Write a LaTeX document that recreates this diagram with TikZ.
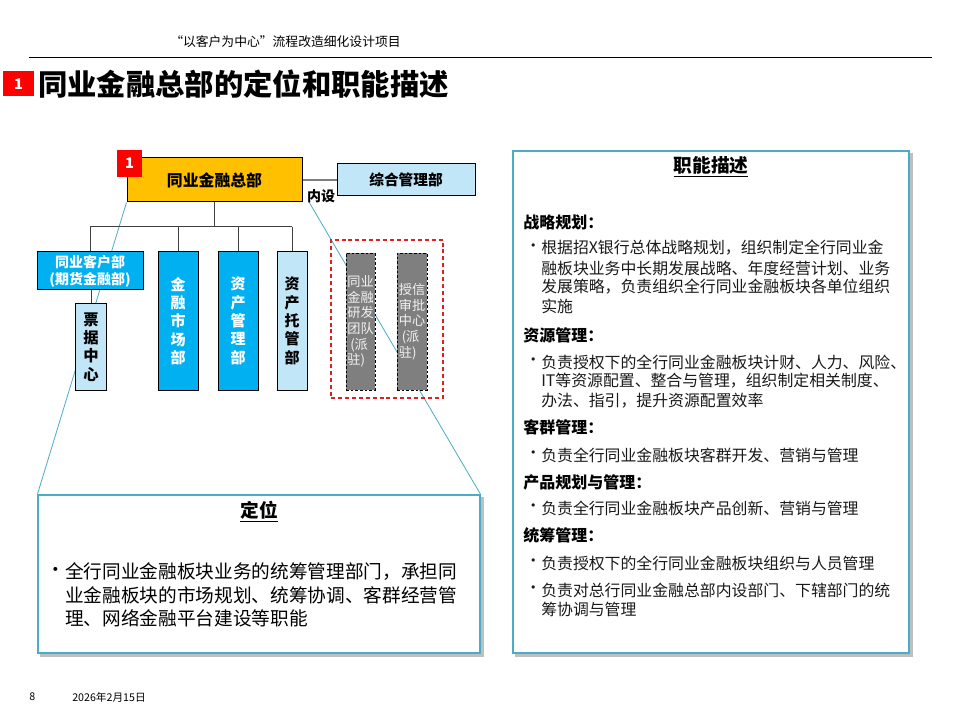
\documentclass[tikz,border=0pt]{standalone}
\usepackage{fontspec}
\setmainfont{Noto Sans CJK SC}
\usetikzlibrary{backgrounds}
\definecolor{orangeq}{HTML}{FFC000}
\definecolor{cyanq}{HTML}{00B0F0}
\definecolor{lblue}{HTML}{C0E6F8}
\definecolor{grayq}{HTML}{7F7F7F}
\definecolor{callout}{HTML}{4BACC6}
\definecolor{redq}{HTML}{FF0000}
\definecolor{dashred}{HTML}{E02020}
\definecolor{shadowq}{HTML}{BFBFBF}
\definecolor{lineq}{HTML}{404040}
\begin{document}
\begin{tikzpicture}[x=0.75pt,y=-0.75pt,
  orgbox/.style={draw=black, line width=0.75pt, inner sep=0pt, align=center,
    font=\bfseries\fontsize{11.25}{13.75}\selectfont},
  darkbox/.style={orgbox, fill=cyanq, text=white},
  lightbox/.style={orgbox, fill=lblue, text=black},
  dispbox/.style={draw=black, dashed, dash pattern=on 2pt off 1.5pt, line width=0.6pt, fill=grayq,
    text=white!95!black, inner sep=0.5pt, align=left,
    font=\fontsize{9.9}{11.75}\selectfont},
  badge/.style={fill=redq, text=white, inner sep=0pt, font=\bfseries\fontsize{11}{12}\selectfont},
  bigbox/.style={draw=callout, line width=0.9pt, fill=white, inner sep=0pt},
  orgline/.style={draw=lineq, line width=0.75pt},
  calline/.style={draw=callout, line width=0.6pt},
  ztext/.style={anchor=west, inner sep=0pt, font=\fontsize{11.9}{14}\selectfont, text=black!90},
  zhead/.style={anchor=west, inner sep=0pt, font=\bfseries\fontsize{12}{14}\selectfont, text=black},
  dtext/.style={anchor=west, inner sep=0pt, font=\fontsize{14}{16}\selectfont, text=black},
  boxtitle/.style={inner sep=0pt, font=\bfseries\fontsize{14}{16}\selectfont}
]
\useasboundingbox (0,0) rectangle (960,720);
\begin{pgfonlayer}{background}
\fill[white] (0,0) rectangle (960,720);
\end{pgfonlayer}

% header
\node[anchor=west, inner sep=0pt, font=\fontsize{9.6}{11}\selectfont] (hdr) at (170,42) {“以客户为中心”流程改造细化设计项目};
\coordinate (hl1) at (29,58);
\coordinate (hl2) at (932,58);
\draw[line width=0.75pt] (hl1) -- (hl2);

% title
\node[badge, minimum width={31*0.75pt}, minimum height={25*0.75pt}] (tbadge) at (18.5,84) {1};
\node[anchor=west, inner sep=0pt, font=\bfseries\fontsize{22}{24}\selectfont] (title) at (38,84) {同业金融总部的定位和职能描述};

% org chart
\node[orgbox, fill=orangeq, minimum width={175*0.75pt}, minimum height={44*0.75pt},
      font=\bfseries\fontsize{11.9}{14}\selectfont] (HQ) at (214.5,180) {同业金融总部};
\node[badge, minimum width={25*0.75pt}, minimum height={27*0.75pt}] (hqbadge) at (129.5,163.5) {1};
\node[lightbox, minimum width={138*0.75pt}, minimum height={32*0.75pt},
      font=\bfseries\fontsize{11}{13}\selectfont] (ZH) at (406,180) {综合管理部};
\node[inner sep=0pt, font=\bfseries\fontsize{10.5}{12}\selectfont] (neishe) at (321,196) {内设};

\node[darkbox, minimum width={106*0.75pt}, minimum height={38*0.75pt},
      font=\bfseries\fontsize{10.5}{12.75}\selectfont] (KH) at (90,271) {同业客户部\\(期货金融部)};
\node[lightbox, minimum width={31*0.75pt}, minimum height={86*0.75pt},
      font=\bfseries\fontsize{11.5}{13.75}\selectfont] (PJ) at (91,347) {票\\据\\中\\心};
\node[darkbox, minimum width={40*0.75pt}, minimum height={138*0.75pt}] (JR) at (178,321) {金\\融\\市\\场\\部};
\node[darkbox, minimum width={40*0.75pt}, minimum height={138*0.75pt}] (ZC) at (238,321) {资\\产\\管\\理\\部};
\node[lightbox, minimum width={30*0.75pt}, minimum height={138*0.75pt}] (TG) at (292,321) {资\\产\\托\\管\\部};

\node[draw=dashred, dashed, dash pattern=on 3pt off 2.2pt, line width=0.8pt,
      minimum width={112*0.75pt}, minimum height={158*0.75pt}, inner sep=0pt] (DISP) at (387,319) {};
\node[dispbox, minimum width={29*0.75pt}, minimum height={137*0.75pt}] (YF) at (360.5,321.5) {同业\\金融\\研发\\团队\\\ (派\\驻)};
\node[dispbox, minimum width={30*0.75pt}, minimum height={137*0.75pt}] (SX) at (412,321.5) {授信\\审批\\中心\\\ (派\\驻)};

\coordinate (bus) at (0,227);
\draw[orgline] (HQ.south) -- (HQ.south |- bus);
\draw[orgline] (KH.north |- bus) -- (TG.north |- bus);
\draw[orgline] (KH.north |- bus) -- (KH.north);
\draw[orgline] (JR.north |- bus) -- (JR.north);
\draw[orgline] (ZC.north |- bus) -- (ZC.north);
\draw[orgline] (TG.north |- bus) -- (TG.north);
\draw[orgline] (PJ.north |- KH.south) -- (PJ.north);
\draw[draw=grayq, line width=0.9pt] (HQ.east) -- (ZH.west);

% definition boxes
\node[bigbox, minimum width={442*0.75pt}, minimum height={158*0.75pt}] (DW) at (259,574) {};
\node[bigbox, minimum width={396*0.75pt}, minimum height={502*0.75pt}] (ZN) at (711,402) {};

\begin{pgfonlayer}{background}
\fill[shadowq] ([shift={(3,3)}]DW.north west) rectangle ([shift={(3,3)}]DW.south east);
\fill[shadowq] ([shift={(3,3)}]ZN.north west) rectangle ([shift={(3,3)}]ZN.south east);
\coordinate (c2) at (309,202);
\draw[calline] (HQ.south west) -- (DW.north west);
\draw[calline] (c2) -- (DW.north east);
\end{pgfonlayer}

% 定位 text
\node[boxtitle] (dwt) at (259,512) {\underline{定位}};
\node[dtext] (db1) at (46,572) {•};
\node[dtext] (dl1) at (65,572) {全行同业金融板块业务的统筹管理部门，承担同};
\node[dtext] (dl2) at (65,595) {业金融板块的市场规划、统筹协调、客群经营管};
\node[dtext] (dl3) at (65,618) {理、网络金融平台建设等职能};

% 职能描述 text
\node[boxtitle] (znt) at (711,167) {\underline{职能描述}};
\node[zhead] (h1) at (523,222) {战略规划：};
\node[ztext] (b1) at (525,248) {•};
\node[ztext] (t11) at (541,248) {根据招X银行总体战略规划，组织制定全行同业金};
\node[ztext] (t12) at (541,268) {融板块业务中长期发展战略、年度经营计划、业务};
\node[ztext] (t13) at (541,287) {发展策略，负责组织全行同业金融板块各单位组织};
\node[ztext] (t14) at (541,306) {实施};
\node[zhead] (h2) at (523,335) {资源管理：};
\node[ztext] (b2) at (525,362) {•};
\node[ztext] (t21) at (541,362) {负责授权下的全行同业金融板块计财、人力、风险、};
\node[ztext] (t22) at (541,381) {IT等资源配置、整合与管理，组织制定相关制度、};
\node[ztext] (t23) at (541,401) {办法、指引，提升资源配置效率};
\node[zhead] (h3) at (523,427) {客群管理：};
\node[ztext] (b3) at (525,455) {•};
\node[ztext] (t31) at (541,455) {负责全行同业金融板块客群开发、营销与管理};
\node[zhead] (h4) at (523,482) {产品规划与管理：};
\node[ztext] (b4) at (525,508) {•};
\node[ztext] (t41) at (541,508) {负责全行同业金融板块产品创新、营销与管理};
\node[zhead] (h5) at (523,535) {统筹管理：};
\node[ztext] (b5) at (525,563) {•};
\node[ztext] (t51) at (541,563) {负责授权下的全行同业金融板块组织与人员管理};
\node[ztext] (b6) at (525,590) {•};
\node[ztext] (t61) at (541,590) {负责对总行同业金融总部内设部门、下辖部门的统};
\node[ztext] (t62) at (541,609) {筹协调与管理};

% footer
\node[anchor=west, inner sep=0pt, font=\fontsize{8}{9}\selectfont] (pg) at (29,697) {8};
\node[anchor=west, inner sep=0pt, font=\fontsize{8}{9}\selectfont] (date) at (72,697) {2026年2月15日};
\end{tikzpicture}
\end{document}
